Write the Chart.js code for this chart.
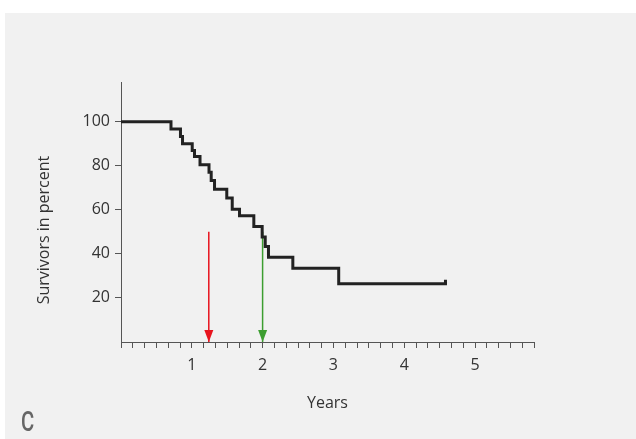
<!DOCTYPE html>
<html><head><meta charset="utf-8">
<script src="https://cdn.jsdelivr.net/npm/chart.js@4/dist/chart.umd.min.js"></script>
<style>
html,body{margin:0;padding:0;background:#fff;}
#wrap{position:relative;width:636px;height:439px;overflow:hidden;}
#panel{position:absolute;left:5px;top:13px;width:631px;height:426px;background:#f1f1f1;}
#c{position:absolute;left:0;top:0;}
#ytitle{position:absolute;left:43px;top:230px;transform:translate(-50%,-50%) rotate(-90deg);font:16px 'Open Sans';color:#333;white-space:nowrap;line-height:20px;}
#letter{position:absolute;left:21px;top:409px;font:500 27px Roboto;line-height:27px;color:#666;transform:scaleX(0.75);transform-origin:0 0;}
</style></head>
<body>
<div id="wrap">
<div id="panel"></div>
<canvas id="c" width="636" height="439"></canvas>
<div id="ytitle">Survivors in percent</div>
<div id="letter">C</div>
</div>
<script>
// Kaplan-Meier survival (years, percent)
const survTimes  = [0, 0.706, 0.840, 0.869, 1.006, 1.038, 1.116, 1.243, 1.274, 1.321, 1.494, 1.571, 1.674, 1.876, 1.994, 2.037, 2.083, 2.427, 3.075, 4.583];
const survValues = [100, 96.7, 93.3, 90.0, 86.9, 84.2, 80.5, 77.0, 73.3, 69.3, 65.3, 60.3, 57.3, 52.4, 47.6, 43.3, 38.5, 33.5, 26.4, 28.2];
// Arrows (time point, top value)
const redArrow   = [1.24, 50];
const greenArrow = [2.0, 50];
// Axis ticks
const xTickLabels = ['1', '2', '3', '4', '5'];
const xMinorPerYear = 6;
const xMaxMonths = 70;
const yTickValues = [20, 40, 60, 80, 100];

const kmData = survTimes.map((t, i) => ({x: t, y: survValues[i]}));
const arrowHeads = {
  id: 'arrowHeads',
  afterDatasetsDraw(chart) {
    const ctx = chart.ctx;
    chart.data.datasets.forEach((ds, i) => {
      if (!ds.arrowHead) return;
      const meta = chart.getDatasetMeta(i);
      const pt = meta.data[meta.data.length - 1];
      ctx.save();
      ctx.fillStyle = ds.borderColor;
      ctx.beginPath();
      ctx.moveTo(pt.x, pt.y);
      ctx.lineTo(pt.x - 4.5, pt.y - 12);
      ctx.lineTo(pt.x + 4.5, pt.y - 12);
      ctx.closePath();
      ctx.fill();
      ctx.restore();
    });
  }
};

new Chart(document.getElementById('c'), {
  type: 'line',
  data: {
    datasets: [
      {data: kmData, borderColor: '#222', borderWidth: 3, stepped: true, pointRadius: 0, fill: false, order: 0, borderJoinStyle: 'miter', borderCapStyle: 'butt'},
      {data: [{x: redArrow[0], y: redArrow[1]}, {x: redArrow[0], y: 0}], borderColor: '#e8141e', borderWidth: 1.5, pointRadius: 0, order: 1, arrowHead: true},
      {data: [{x: greenArrow[0], y: greenArrow[1]}, {x: greenArrow[0], y: 0}], borderColor: '#3c9e30', borderWidth: 1.5, pointRadius: 0, order: 2, arrowHead: true}
    ]
  },
  options: {
    responsive: false,
    animation: false,
    events: [],
    layout: {padding: {left: 0, top: 82, right: 102, bottom: 0}},
    plugins: {legend: {display: false}, tooltip: {enabled: false}},
    scales: {
      x: {
        type: 'linear', min: 0, max: xMaxMonths / 12,
        afterBuildTicks(s) {
          const n = Math.round(xMaxMonths / 12 * xMinorPerYear);
          s.ticks = Array.from({length: n + 1}, (_, i) => ({value: i / xMinorPerYear}));
        },
        afterFit(s) { s.height = 97; },
        border: {display: true, color: '#555', width: 1},
        grid: {display: true, drawOnChartArea: false, drawTicks: true, tickLength: 6, color: '#555', tickColor: '#555'},
        ticks: {
          autoSkip: false, maxRotation: 0, padding: 8, color: '#333',
          font: {family: 'Open Sans', size: 16},
          callback(v, i) { return (i > 0 && i % xMinorPerYear === 0 && xTickLabels[i / xMinorPerYear - 1]) || ''; }
        },
        title: {display: true, text: 'Years', color: '#333', font: {family: 'Open Sans', size: 16}, padding: {top: 4, bottom: 26}}
      },
      y: {
        type: 'linear', min: 0, max: 118,
        afterBuildTicks(s) { s.ticks = yTickValues.map(v => ({value: v})); },
        afterFit(s) { s.width = 121; },
        border: {display: true, color: '#555', width: 1},
        grid: {display: true, drawOnChartArea: false, drawTicks: true, tickLength: 6, color: '#555', tickColor: '#555'},
        ticks: {padding: 5, color: '#333', font: {family: 'Open Sans', size: 16}}
      }
    }
  },
  plugins: [arrowHeads]
});
</script>
</body></html>
